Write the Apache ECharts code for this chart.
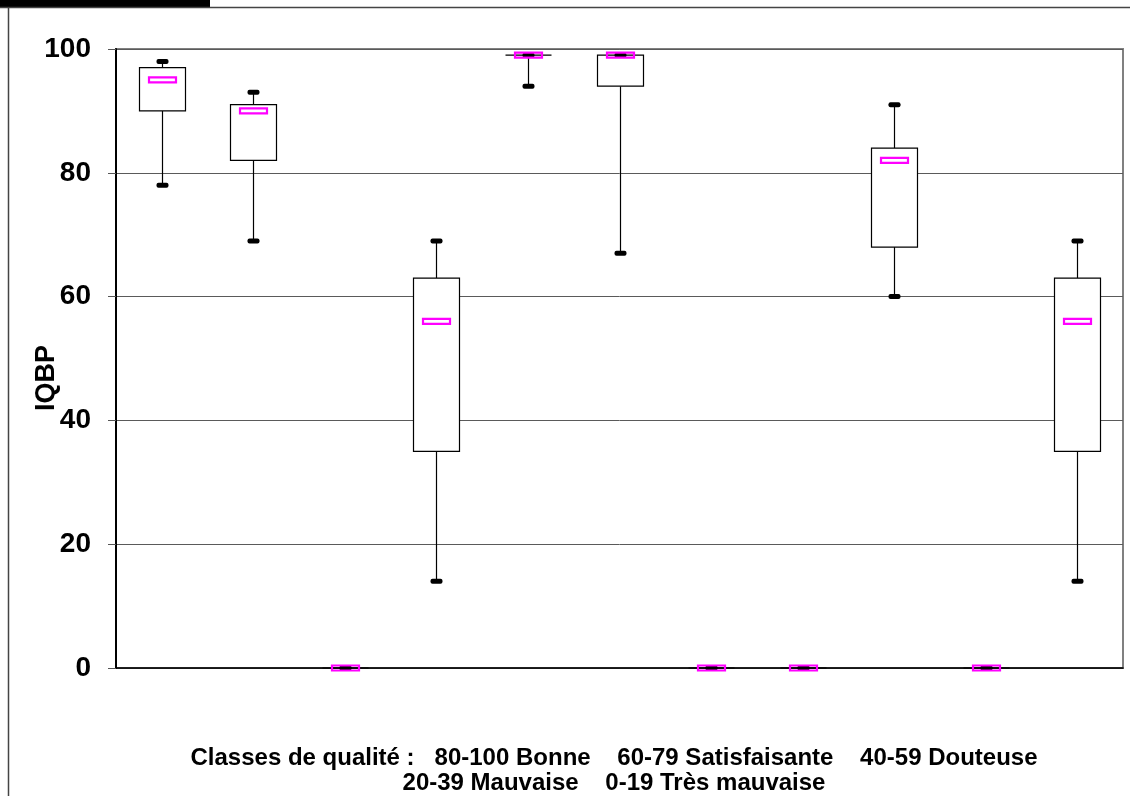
<!DOCTYPE html>
<html>
<head>
<meta charset="utf-8">
<script src="https://cdn.jsdelivr.net/npm/echarts@6/dist/echarts.min.js"></script>
<style>
  html, body { margin: 0; padding: 0; background: #fff; }
  #chart { width: 1130px; height: 796px; }
</style>
</head>
<body>
<div id="chart"></div>
<script>
// IQBP distribution per station: whiskers, quartiles and median
const stations    = ['S1', 'S2', 'S3', 'S4', 'S5', 'S6', 'S7', 'S8', 'S9', 'S10', 'S11'];
const whiskerLow  = [78, 69, 0, 14, 94, 67, 0, 0, 60, 0, 14];
const quartile1   = [90, 82, 0, 35, 99, 94, 0, 0, 68, 0, 35];
const medians     = [95, 90, 0, 56, 99, 99, 0, 0, 82, 0, 56];
const quartile3   = [97, 91, 0, 63, 99, 99, 0, 0, 84, 0, 63];
const whiskerHigh = [98, 93, 0, 69, 99, 99, 0, 0, 91, 0, 69];
const yTicks      = [0, 20, 40, 60, 80, 100];

const boxData = stations.map((s, i) =>
  [i, whiskerLow[i], quartile1[i], medians[i], quartile3[i], whiskerHigh[i]]);

const FONT = '"Liberation Sans", Arial, Helvetica, sans-serif';

function renderBox(params, api) {
  const i = api.value(0);
  const pLow  = api.coord([i, api.value(1)]);
  const pQ1   = api.coord([i, api.value(2)]);
  const pMed  = api.coord([i, api.value(3)]);
  const pQ3   = api.coord([i, api.value(4)]);
  const pHigh = api.coord([i, api.value(5)]);
  const band = api.size([1, 0])[0];
  const bw = Math.round(band * 0.5);
  const cx = Math.round(pMed[0]) + 0.5;
  const left = cx - bw / 2;
  const lineStyle = { stroke: '#000', lineWidth: 1.2, fill: null };
  return {
    type: 'group',
    children: [
      { type: 'line', shape: { x1: cx, y1: pHigh[1], x2: cx, y2: pQ3[1] }, style: lineStyle },
      { type: 'line', shape: { x1: cx, y1: pQ1[1], x2: cx, y2: pLow[1] }, style: lineStyle },
      { type: 'rect', shape: { x: left, y: pQ3[1], width: bw, height: pQ1[1] - pQ3[1] },
        style: { fill: '#fff', stroke: '#000', lineWidth: 1.2 } },
      { type: 'rect', shape: { x: cx - 6, y: pHigh[1] - 2.5, width: 12, height: 5, r: 2 },
        style: { fill: '#000' } },
      { type: 'rect', shape: { x: cx - 6, y: pLow[1] - 2.5, width: 12, height: 5, r: 2 },
        style: { fill: '#000' } },
      { type: 'rect', shape: { x: cx - 13.5, y: pMed[1] - 2.5, width: 27, height: 5 },
        style: { fill: null, stroke: '#ff00ff', lineWidth: 2.2 } }
    ]
  };
}

const chart = echarts.init(document.getElementById('chart'), null, { renderer: 'canvas' });

chart.setOption({
  animation: false,
  backgroundColor: '#fff',
  grid: {
    left: 116, right: 7, top: 49, bottom: 128,
    show: true, borderColor: '#808080', borderWidth: 2, backgroundColor: 'transparent'
  },
  xAxis: {
    type: 'category',
    data: stations,
    boundaryGap: true,
    axisLine: { show: true, lineStyle: { color: '#000', width: 1.5 } },
    axisTick: { show: false },
    axisLabel: { show: false },
    splitLine: { show: false }
  },
  yAxis: {
    type: 'value',
    min: yTicks[0],
    max: yTicks[yTicks.length - 1],
    interval: yTicks[1] - yTicks[0],
    axisLine: { show: true, lineStyle: { color: '#000', width: 2 } },
    axisTick: { show: true, inside: false, length: 8, lineStyle: { color: '#555', width: 1 } },
    axisLabel: {
      margin: 25,
      color: '#000',
      fontFamily: FONT,
      fontWeight: 'bold',
      fontSize: 28
    },
    splitLine: { show: true, lineStyle: { color: '#5a5a5a', width: 1 } }
  },
  series: [{
    type: 'custom',
    renderItem: renderBox,
    encode: { x: 0, y: [1, 2, 3, 4, 5] },
    data: boxData,
    z: 3
  }],
  graphic: [
    { type: 'rect', shape: { x: 0, y: 0, width: 210, height: 7 }, style: { fill: '#000' }, silent: true },
    { type: 'line', shape: { x1: 0, y1: 7.5, x2: 1130, y2: 7.5 }, style: { stroke: '#444', lineWidth: 1.5 }, silent: true },
    { type: 'line', shape: { x1: 8.5, y1: 7, x2: 8.5, y2: 796 }, style: { stroke: '#444', lineWidth: 1.5 }, silent: true },
    {
      type: 'text', x: 47, y: 378, rotation: Math.PI / 2,
      style: {
        text: 'IQBP', fill: '#000', font: 'bold 27px ' + FONT,
        textAlign: 'center', textVerticalAlign: 'middle'
      },
      silent: true
    },
    {
      type: 'text', x: 614, y: 771,
      style: {
        text: 'Classes de qualité :   80-100 Bonne    60-79 Satisfaisante    40-59 Douteuse\n20-39 Mauvaise    0-19 Très mauvaise',
        fill: '#000', font: 'bold 24px ' + FONT, lineHeight: 25,
        textAlign: 'center', textVerticalAlign: 'middle'
      },
      silent: true
    }
  ]
});
</script>
</body>
</html>
